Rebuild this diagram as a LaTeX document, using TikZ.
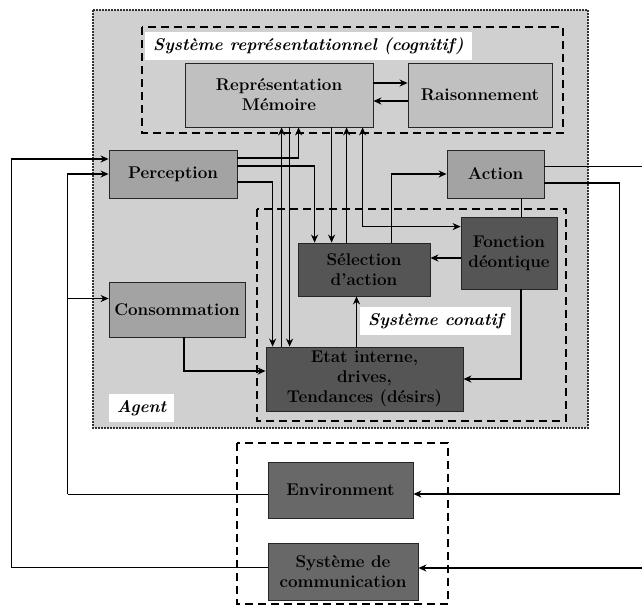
\documentclass[tikz,border=0pt]{standalone}
\usepackage{tikz}
\usetikzlibrary{positioning, calc, arrows.meta}
\definecolor{agentGray}{RGB}{208, 208, 208}
\definecolor{cogGray}{RGB}{192, 192, 192}
\definecolor{midGray}{RGB}{163, 163, 163}
\definecolor{darkGray}{RGB}{85, 85, 85}
\definecolor{envGray}{RGB}{104, 104, 104}

\begin{document}
\begin{tikzpicture}[
    x=1pt, y=-1pt,
    box/.style={draw=black!85, line width=0.8pt, align=center, inner sep=0pt,
      font=\fontsize{17}{20}\selectfont\bfseries},
    cogbox/.style={box, fill=cogGray},
    perbox/.style={box, fill=midGray},
    conbox/.style={box, fill=darkGray},
    envbox/.style={box, fill=envGray},
    tag/.style={fill=white, inner xsep=8pt, minimum height=28pt,
      font=\fontsize{17}{20}\selectfont\bfseries\itshape},
    dashbox/.style={line width=1.4pt, dash pattern=on 8pt off 5pt},
    conn/.style={line width=0.8pt},
    arr/.style={line width=1.3pt, -{Stealth[length=8pt, width=7pt, inset=2.5pt]}},
    dblarr/.style={line width=1.3pt, {Stealth[length=8pt, width=7pt, inset=2.5pt]}-{Stealth[length=8pt, width=7pt, inset=2.5pt]}},
  ]
    \useasboundingbox (0,0) rectangle (642,606);
    % Agent
    \fill[agentGray] (93,10) rectangle (588,428);
    \draw[line width=2pt, densely dotted, black!80] (93,10) rectangle (588,428);
    \draw[dashbox] (142,27) rectangle (563,133);
    \draw[dashbox] (257,209) rectangle (566,421);
    % environnement
    \draw[dashbox] (237,443) rectangle (448,604);

    \node[tag, anchor=west] (cogTag) at (145,46) {Système représentationnel (cognitif)};
    \node[tag, anchor=west] (conTag) at (360,321) {Système conatif};
    \node[tag] (agentTag) at (141.5,408) {Agent};

    % systeme representationnel
    \node[cogbox, minimum width=188pt, minimum height=64pt] (rm) at (279,95) {Représentation\\Mémoire};
    \node[cogbox, minimum width=144pt, minimum height=64pt] (rais) at (480,95) {Raisonnement};
    % entrees / sorties
    \node[perbox, minimum width=128pt, minimum height=48pt] (perc) at (173,174) {Perception};
    \node[perbox, minimum width=136pt, minimum height=55pt] (cons) at (177,309.5) {Consommation};
    \node[perbox, minimum width=97pt, minimum height=48pt] (act) at (495.5,174) {Action};
    % systeme conatif
    \node[conbox, minimum width=96pt, minimum height=72pt] (fonc) at (509,253) {Fonction\\déontique};
    \node[conbox, minimum width=132pt, minimum height=53pt] (sel) at (364,269.5) {Sélection\\d'action};
    \node[conbox, minimum width=197pt, minimum height=64pt] (etat) at (364.5,379) {Etat interne,\\drives,\\Tendances (désirs)};
    % monde
    \node[envbox, minimum width=145pt, minimum height=56pt] (env) at (340.5,490) {Environment};
    \node[envbox, minimum width=150pt, minimum height=57pt] (sys) at (343,571.5) {Système de\\communication};

    \coordinate (outA) at (642,166);
    \coordinate (inS) at (642,568);

    \draw[arr] ([yshift=12pt]rm.east) -- ([yshift=12pt]rm.east -| rais.west);
    \draw[arr] ([yshift=-6pt]rais.west) -- ([yshift=-6pt]rais.west -| rm.east);

    \draw[arr] ([yshift=16pt]perc.east) -| ([xshift=114pt]rm.south west);
    \draw[arr] ([yshift=8pt]perc.east) -| ([xshift=17pt]sel.north west);
    \draw[arr] ([yshift=-8pt]perc.east) -| ([xshift=7pt]etat.north west);
    \draw[arr] ([xshift=16pt]etat.north west) -- ([xshift=16pt]etat.north west |- rm.south);
    \draw[arr] ([xshift=24pt]etat.north west |- rm.south) -- ([xshift=24pt]etat.north west);
    \draw[arr] ([xshift=34pt]sel.north west |- rm.south) -- ([xshift=34pt]sel.north west);
    \draw[arr] ([xshift=49pt]sel.north west) -- ([xshift=49pt]sel.north west |- rm.south);
    \draw[dblarr] ([xshift=65pt]sel.north west |- rm.south) |- ([yshift=-10pt]fonc.north west);
    \draw[arr] ([xshift=94pt]sel.north west) |- (act.west);
    \draw[arr] ([yshift=-5pt]fonc.west) -- ([yshift=-5pt]fonc.west -| sel.east);
    \draw[conn] ([xshift=12pt]fonc.north) -- ([xshift=12pt]fonc.north |- act.south);
    \draw[arr] ([xshift=12pt]fonc.south) |- (etat.east);
    \draw[arr] ([xshift=-8pt]etat.north) -- ([xshift=-8pt]etat.north |- sel.south);
    \draw[arr] ([xshift=7pt]cons.south) |- ([yshift=8pt]etat.west);

    % vers l'exterieur
    \draw[conn] ([yshift=8pt]act.east) -- (outA);
    \draw[arr] ([yshift=-9pt]act.east) -- ++(75,0) |- ([yshift=-4pt]env.east);
    \draw[arr] (inS) -- (inS -| sys.east);
    \draw[conn] ([yshift=-4pt]env.west) -- ++(-200,0) coordinate (envL);
    \draw[arr] (envL) |- (perc.west);
    \draw[arr] ([yshift=11pt]cons.west -| envL) -- ([yshift=11pt]cons.west);
    \draw[conn] ([yshift=4pt]sys.west) -- ++(-256,0) coordinate (sysL);
    \draw[arr] (sysL) |- ([yshift=15pt]perc.west);
  \end{tikzpicture}
\end{document}
